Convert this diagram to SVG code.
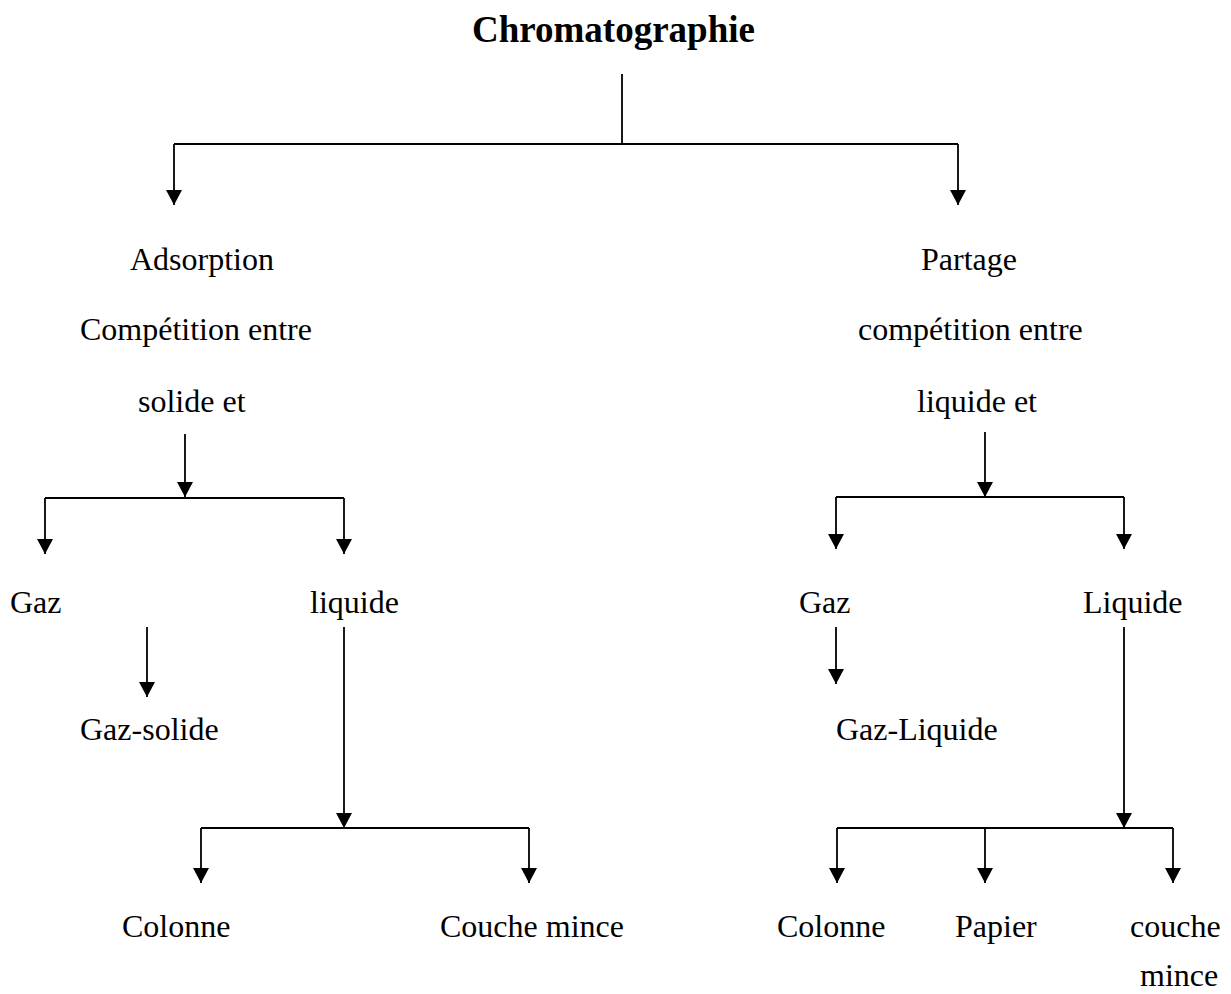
<svg xmlns="http://www.w3.org/2000/svg" width="1231" height="994" viewBox="0 0 1231 994">
  <style>
    .lbl { font-family: "Liberation Serif", "Times New Roman", serif; font-size: 32px; fill: #000; }
    .title { font-family: "Liberation Serif", "Times New Roman", serif; font-size: 37px; font-weight: bold; fill: #000; }
    .ln { fill: none; stroke: #000; stroke-width: 1.8; }
    .arr { fill: none; stroke: #000; stroke-width: 1.8; marker-end: url(#head); }
  </style>
  <defs>
    <marker id="head" markerUnits="userSpaceOnUse" markerWidth="16" markerHeight="16" refX="15" refY="8" orient="auto" viewBox="0 0 16 16">
      <path d="M0,0 L15,8 L0,16 z" fill="#000"/>
    </marker>
  </defs>
  <rect width="1231" height="994" fill="#fff"/>

  <!-- connectors -->
  <g id="connectors">
    <!-- root split -->
    <path class="ln" d="M622,74 V144 M174,144 H958"/>
    <path class="arr" d="M174,144 V205"/>
    <path class="arr" d="M958,144 V205"/>

    <!-- adsorption split -->
    <path class="arr" d="M185,434 V497"/>
    <path class="ln" d="M45,498 H344"/>
    <path class="arr" d="M45,498 V554"/>
    <path class="arr" d="M344,498 V554"/>

    <!-- partage split -->
    <path class="arr" d="M985,432 V497"/>
    <path class="ln" d="M836,497 H1124"/>
    <path class="arr" d="M836,497 V549"/>
    <path class="arr" d="M1124,497 V549"/>

    <!-- gas branches -->
    <path class="arr" d="M147,627 V697"/>
    <path class="arr" d="M836,627 V684"/>

    <!-- liquid branches (adsorption) -->
    <path class="arr" d="M344,627 V828"/>
    <path class="ln" d="M201,828 H529"/>
    <path class="arr" d="M201,828 V883"/>
    <path class="arr" d="M529,828 V883"/>

    <!-- liquid branches (partage) -->
    <path class="arr" d="M1124,627 V828"/>
    <path class="ln" d="M837,828 H1173"/>
    <path class="arr" d="M837,828 V883"/>
    <path class="arr" d="M985,828 V883"/>
    <path class="arr" d="M1173,828 V883"/>
  </g>

  <!-- nodes -->
  <g id="root"><text class="title" x="472" y="42">Chromatographie</text></g>

  <g id="adsorption">
    <text class="lbl" x="130" y="270">Adsorption</text>
    <text class="lbl" x="80" y="340">Compétition entre</text>
    <text class="lbl" x="138" y="412">solide et</text>
  </g>

  <g id="partage">
    <text class="lbl" x="921" y="270">Partage</text>
    <text class="lbl" x="858" y="340">compétition entre</text>
    <text class="lbl" x="917" y="412">liquide et</text>
  </g>

  <g id="ads-gaz"><text class="lbl" x="10" y="613">Gaz</text></g>
  <g id="ads-liquide"><text class="lbl" x="310" y="613">liquide</text></g>
  <g id="par-gaz"><text class="lbl" x="799" y="613">Gaz</text></g>
  <g id="par-liquide"><text class="lbl" x="1083" y="613">Liquide</text></g>

  <g id="gaz-solide"><text class="lbl" x="80" y="740">Gaz-solide</text></g>
  <g id="gaz-liquide"><text class="lbl" x="836" y="740">Gaz-Liquide</text></g>

  <g id="ads-colonne"><text class="lbl" x="122" y="937">Colonne</text></g>
  <g id="ads-couche"><text class="lbl" x="440" y="937">Couche mince</text></g>
  <g id="par-colonne"><text class="lbl" x="777" y="937">Colonne</text></g>
  <g id="par-papier"><text class="lbl" x="955" y="937">Papier</text></g>
  <g id="par-couche">
    <text class="lbl" x="1130" y="937">couche</text>
    <text class="lbl" x="1140" y="986">mince</text>
  </g>
</svg>
